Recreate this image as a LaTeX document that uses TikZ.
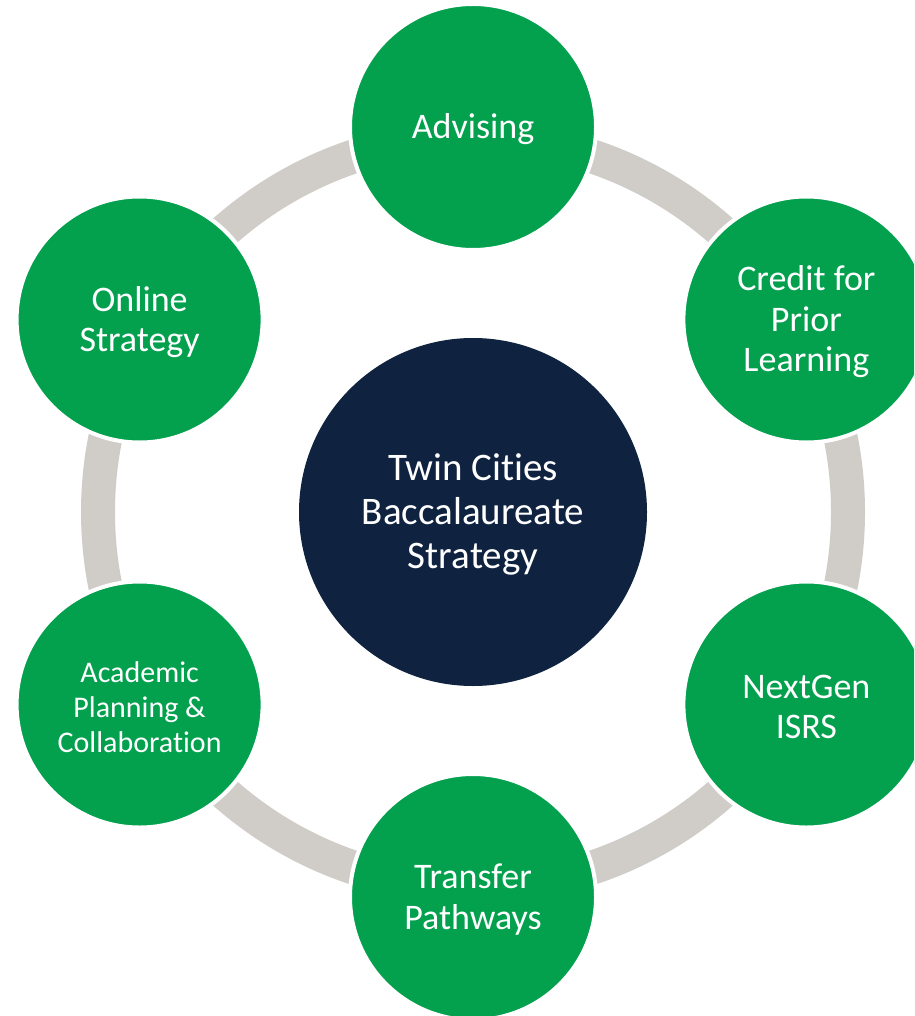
\documentclass[tikz,border=0pt]{standalone}
\usepackage{fontspec}
\setmainfont{Carlito}[Ligatures=NoCommon]
\definecolor{leafgreen}{HTML}{03A04E}
\definecolor{navy}{HTML}{0F2341}
\definecolor{ringgray}{HTML}{D0CDC9}
\begin{document}
\begin{tikzpicture}[x=1pt,y=-1pt,
  hub/.style={circle, fill=navy, minimum size=348pt, inner sep=0pt},
  spoke/.style={circle, fill=leafgreen, draw=white, line width=4pt,
    minimum size=246pt, inner sep=0pt},
  caption/.style={text=white, align=center, inner sep=0pt, yshift=-2.5pt},
  bigtext/.style={caption, font=\fontsize{39}{44}\selectfont},
  midtext/.style={caption, font=\fontsize{36}{40.5}\selectfont},
  smalltext/.style={caption, font=\fontsize{30}{35}\selectfont},
  ring/.style={draw=ringgray, line width=34pt}]
\useasboundingbox (0,0) rectangle (914,1016);
\clip (0,0) rectangle (914,1016);
\fill[white] (0,0) rectangle (914,1016);
% the cycle ring behind the six topic circles
\draw[ring] (473,512) circle[radius=375];
% central strategy
\node[hub, label={[bigtext]center:{Twin Cities\\Baccalaureate\\Strategy}}] (hub) at (473,512) {};
% topics around the cycle
\node[spoke, label={[midtext]center:Advising}] (adv) at (473,127) {};
\node[spoke, label={[midtext]center:{Credit for\\Prior\\Learning}}] (cpl) at (806.4,319.5) {};
\node[spoke, label={[midtext]center:{NextGen\\ISRS}}] (ngi) at (806.4,704.5) {};
\node[spoke, label={[midtext]center:{Transfer\\Pathways}}] (tp) at (473,897) {};
\node[spoke, label={[smalltext]center:{Academic\\Planning \&\\Collaboration}}] (apc) at (139.6,704.5) {};
\node[spoke, label={[midtext]center:{Online\\Strategy}}] (os) at (139.6,319.5) {};
\end{tikzpicture}
\end{document}
